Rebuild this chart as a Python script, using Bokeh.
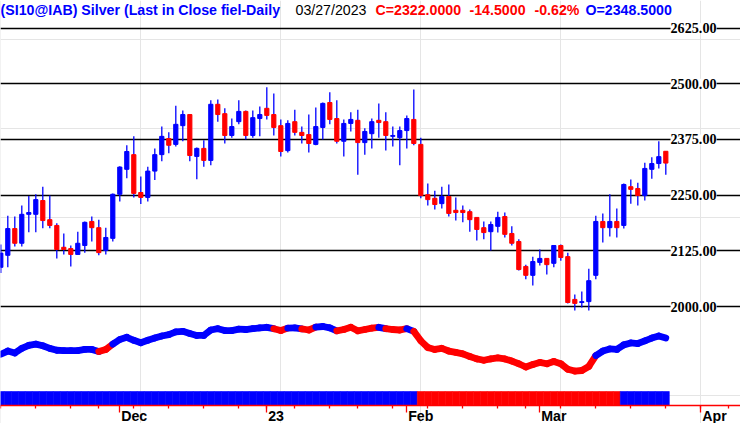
import pandas as pd
from bokeh.plotting import figure
from bokeh.models import (Range1d, LinearAxis, FixedTicker, Grid, ColumnDataSource,
                          LabelSet, Label, CustomLabelingPolicy)
from bokeh.embed import file_html
from bokeh.resources import INLINE

# ---------------- data ----------------
holidays = ["2022-11-24", "2022-12-26", "2023-01-02", "2023-01-16", "2023-02-20", "2023-04-07"]

opens = [2088, 2115, 2175, 2142, 2207, 2207, 2238, 2195, 2182, 2133,
         2130, 2117, 2137, 2191, 2177, 2126, 2153, 2252, 2308, 2341,
         2256, 2245, 2304, 2341, 2377, 2364, 2406, 2431, 2337, 2355,
         2328, 2454, 2433, 2384, 2415, 2438, 2384, 2422, 2445, 2431,
         2406, 2350, 2415, 2391, 2386, 2364, 2402, 2458, 2422, 2371,
         2411, 2418, 2368, 2388, 2418, 2415, 2382, 2379, 2395, 2420,
         2364, 2251, 2243, 2231, 2247, 2216, 2216, 2213, 2200, 2177,
         2168, 2180, 2202, 2164, 2146, 2090, 2070, 2099, 2108, 2097,
         2137, 2112, 2016, 2009, 2011, 2070, 2191, 2177, 2191, 2182,
         2269, 2265, 2249, 2308, 2321, 2348.5]
highs = [2139, 2204, 2202, 2227, 2248, 2252, 2269, 2249, 2187, 2164,
         2137, 2168, 2191, 2202, 2195, 2177, 2254, 2315, 2362, 2382,
         2292, 2314, 2355, 2404, 2391, 2451, 2440, 2431, 2357, 2373,
         2463, 2465, 2445, 2422, 2463, 2440, 2440, 2449, 2492, 2478,
         2420, 2418, 2442, 2404, 2431, 2447, 2458, 2481, 2463, 2420,
         2436, 2442, 2400, 2422, 2456, 2436, 2404, 2404, 2429, 2487,
         2379, 2276, 2260, 2269, 2274, 2245, 2227, 2218, 2200, 2191,
         2191, 2213, 2211, 2180, 2151, 2094, 2112, 2128, 2108, 2137,
         2139, 2121, 2027, 2034, 2085, 2204, 2209, 2252, 2220, 2276,
         2285, 2278, 2323, 2335, 2371, 2348.5]
lows = [2075, 2088, 2135, 2135, 2167, 2167, 2176, 2176, 2108, 2117,
        2090, 2117, 2121, 2146, 2115, 2117, 2146, 2236, 2288, 2245,
        2230, 2236, 2284, 2326, 2344, 2359, 2371, 2326, 2286, 2314,
        2317, 2415, 2366, 2379, 2409, 2375, 2379, 2382, 2420, 2384,
        2337, 2346, 2384, 2366, 2346, 2362, 2375, 2409, 2366, 2337,
        2393, 2296, 2341, 2355, 2379, 2350, 2359, 2317, 2355, 2362,
        2243, 2227, 2218, 2220, 2202, 2193, 2189, 2168, 2148, 2151,
        2126, 2166, 2155, 2137, 2081, 2061, 2047, 2092, 2072, 2088,
        2103, 2007, 1991, 1998, 1991, 2061, 2144, 2157, 2155, 2175,
        2231, 2227, 2238, 2287, 2310, 2296]
closes = [2120, 2175, 2142, 2207, 2211, 2240, 2193, 2182, 2128, 2128,
          2117, 2142, 2189, 2177, 2121, 2155, 2252, 2313, 2348, 2254,
          2245, 2304, 2341, 2382, 2362, 2409, 2431, 2339, 2355, 2328,
          2454, 2431, 2384, 2404, 2438, 2384, 2424, 2431, 2429, 2402,
          2348, 2411, 2391, 2384, 2366, 2404, 2456, 2420, 2371, 2411,
          2420, 2368, 2393, 2415, 2413, 2384, 2384, 2395, 2422, 2366,
          2249, 2240, 2229, 2247, 2209, 2211, 2211, 2195, 2173, 2166,
          2184, 2200, 2162, 2142, 2083, 2070, 2101, 2108, 2094, 2137,
          2110, 2009, 2007, 2011, 2058, 2191, 2177, 2191, 2177, 2274,
          2263, 2249, 2310, 2321, 2336.5, 2322]

# lower indicator (oscillator) values
indicator = [36.7, 40.7, 38.3, 44.0, 47.7, 49.3, 47.3, 44.0, 41.7, 41.3,
             41.3, 41.3, 42.7, 42.7, 40.0, 42.7, 49.3, 55.0, 57.7, 54.0,
             51.0, 54.0, 56.7, 59.3, 61.0, 64.3, 65.0, 62.3, 60.0, 60.0,
             66.7, 68.3, 66.0, 66.0, 67.7, 67.3, 68.3, 69.3, 70.0, 68.3,
             66.0, 69.0, 69.3, 68.0, 66.7, 70.3, 71.0, 69.3, 65.7, 67.3,
             70.0, 65.7, 67.3, 69.0, 70.0, 68.3, 67.3, 66.7, 68.3, 65.0,
             53.3, 45.0, 42.7, 44.0, 40.7, 39.0, 37.3, 34.0, 31.0, 29.3,
             31.0, 32.3, 31.0, 28.3, 25.0, 21.0, 24.0, 26.7, 25.0, 27.7,
             25.0, 18.3, 16.0, 16.7, 21.7, 35.0, 40.7, 43.3, 42.7, 48.3,
             50.7, 50.0, 53.3, 56.7, 59.3, 56.7]
line_state = ("BBBBBBBBBBBBBBB" "RR" "BBBBBBBBBBBBBBBBBBBBBBB" "RR" "BB" "RR" "BBB"
              "RRRRRR" "B" "RRR" "B" "RRRRRRRRRRRRRRRRRRRRRRRRRR" "BBBBBBBBBB")
band_state = ("BBBBBBBBBBBBBBBBBBBBBBBBBBBBBBBBBBBBBBBBBBBBBBBBBBBBBBBBBBBB"
              "RRRRRRRRRRRRRRRRRRRRRRRRRRRRR" "BBBBBBB")

price_levels = [2000, 2125, 2250, 2375, 2500, 2625]
price_labels = ["2000.00", "2125.00", "2250.00", "2375.00", "2500.00", "2625.00"]
month_labels = {12: "Dec", 1: "23", 2: "Feb", 3: "Mar", 4: "Apr"}

title_parts = [("(SI10@IAB) Silver (Last in Close fiel-Daily", "#0000ff", "bold", 0),
               ("03/27/2023", "#000000", "normal", 295),
               ("C=2322.0000", "#ff0000", "bold", 375),
               ("-14.5000", "#ff0000", "bold", 469),
               ("-0.62%", "#ff0000", "bold", 534),
               ("O=2348.5000", "#0000ff", "bold", 585)]

BLUE = "#0000ff"
RED = "#ff0000"
FONT = "Liberation Sans"
FS = "14.2px"
# horizontal shift (in trading days) of each month label's centre from its tick
label_shift = {"Dec": 2.06, "23": 1.33, "Feb": 2.0, "Mar": 2.0, "Apr": 1.95}

# ---------------- derived ----------------
dates = pd.bdate_range("2022-11-07", "2023-04-28", freq="C", holidays=holidays)
n = len(opens)
xs = list(range(n))

month_pos, week_pos = [], []
for i, d in enumerate(dates):
    if i > 0 and d.month != dates[i - 1].month:
        month_pos.append(i)
    if i == 0 or d.isocalendar()[1] != dates[i - 1].isocalendar()[1]:
        week_pos.append(i)

label_ticks, overrides = [], {}
for m in month_pos:
    txt = month_labels[dates[m].month]
    pos = round(m + label_shift[txt], 3)
    label_ticks.append(pos)
    overrides[pos] = txt
    overrides[str(pos)] = txt

candle = ColumnDataSource(dict(
    x=xs, high=highs, low=lows,
    top=[max(o, c) for o, c in zip(opens, closes)],
    bottom=[min(o, c) for o, c in zip(opens, closes)],
    color=[BLUE if c >= o else RED for o, c in zip(opens, closes)],
))

ind_src = ColumnDataSource(dict(
    x0=xs[:-1], x1=xs[1:], y0=indicator[:-1], y1=indicator[1:],
    color=[RED if s == "R" else BLUE for s in line_state[1:]],
))

band_src = ColumnDataSource(dict(
    x=xs, color=[RED if s == "R" else BLUE for s in band_state],
))

# ---------------- figure ----------------
AXIS_PRICE = 1777.8   # price-scale position of the time axis line

p = figure(width=740, height=423, output_backend="svg", toolbar_location=None,
           x_range=Range1d(-0.043, 105.67), y_range=Range1d(1737.4, 2687),
           x_axis_location=None, y_axis_location=None, title=None,
           min_border=0, min_border_left=0, min_border_right=0,
           min_border_top=0, min_border_bottom=0)
p.outline_line_color = None
p.background_fill_color = "white"
p.border_fill_color = "white"
p.extra_y_ranges = {"ind": Range1d(-48.75, 473.5), "band": Range1d(-1.2857, 28.93)}

grid = Grid(dimension=1, ticker=FixedTicker(ticks=price_levels),
            grid_line_color="black", grid_line_width=1.4)
p.add_layout(grid)

# candles
p.segment(x0="x", x1="x", y0="low", y1="high", source=candle,
          line_color=BLUE, line_width=1.3)
p.vbar(x="x", width=0.6, top="top", bottom="bottom", source=candle,
       fill_color="color", line_color="color", line_width=1)

# indicator line
p.segment(x0="x0", x1="x1", y0="y0", y1="y1", source=ind_src,
          line_color="color", line_width=6.8, line_cap="round",
          y_range_name="ind")

# state band
p.vbar(x="x", width=1.0, top=1, bottom=0, source=band_src,
       fill_color="color", line_color="color", line_width=0.6,
       y_range_name="band")

# right price labels
lab_src = ColumnDataSource(dict(y=price_levels, text=price_labels))
p.add_layout(LabelSet(x=95.67, y="y", text="text", source=lab_src,
                      text_font=FONT, text_font_style="bold", text_font_size=FS,
                      text_color="black", text_align="left", text_baseline="middle",
                      background_fill_color="white"))

# title pieces
for txt, col, style, X in title_parts:
    p.add_layout(Label(x=(X - 0.3) / 7.0, y=2665.7, text=txt, text_color=col,
                       text_font=FONT, text_font_style=style, text_font_size=FS,
                       text_align="left", text_baseline="middle"))

# time axis: line and tick marks (own labels suppressed)
axA = LinearAxis(ticker=FixedTicker(ticks=month_pos, minor_ticks=week_pos),
                 fixed_location=AXIS_PRICE,
                 major_label_policy=CustomLabelingPolicy(code="return new Set()"))
axA.axis_line_color = RED
axA.axis_line_width = 1.5
axA.major_tick_line_color = RED
axA.major_tick_line_width = 1.3
axA.major_tick_out = 7
axA.major_tick_in = 0
axA.minor_tick_line_color = RED
axA.minor_tick_line_width = 1.3
axA.minor_tick_out = 3
axA.minor_tick_in = 0
axA.major_label_text_font_size = "1px"
axA.major_label_standoff = 0
p.add_layout(axA, "below")

# time axis: month labels, placed just right of each month tick
axB = LinearAxis(ticker=FixedTicker(ticks=label_ticks, minor_ticks=[]),
                 fixed_location=AXIS_PRICE, major_label_overrides=overrides)
axB.axis_line_color = None
axB.major_tick_line_color = None
axB.minor_tick_line_color = None
axB.major_tick_out = 0
axB.major_tick_in = 0
axB.minor_tick_out = 0
axB.minor_tick_in = 0
axB.major_label_standoff = 2
axB.major_label_text_font = FONT
axB.major_label_text_font_style = "bold"
axB.major_label_text_font_size = FS
axB.major_label_text_color = "black"
p.add_layout(axB, "below")

open("out.html", "w").write(file_html(p, INLINE))
